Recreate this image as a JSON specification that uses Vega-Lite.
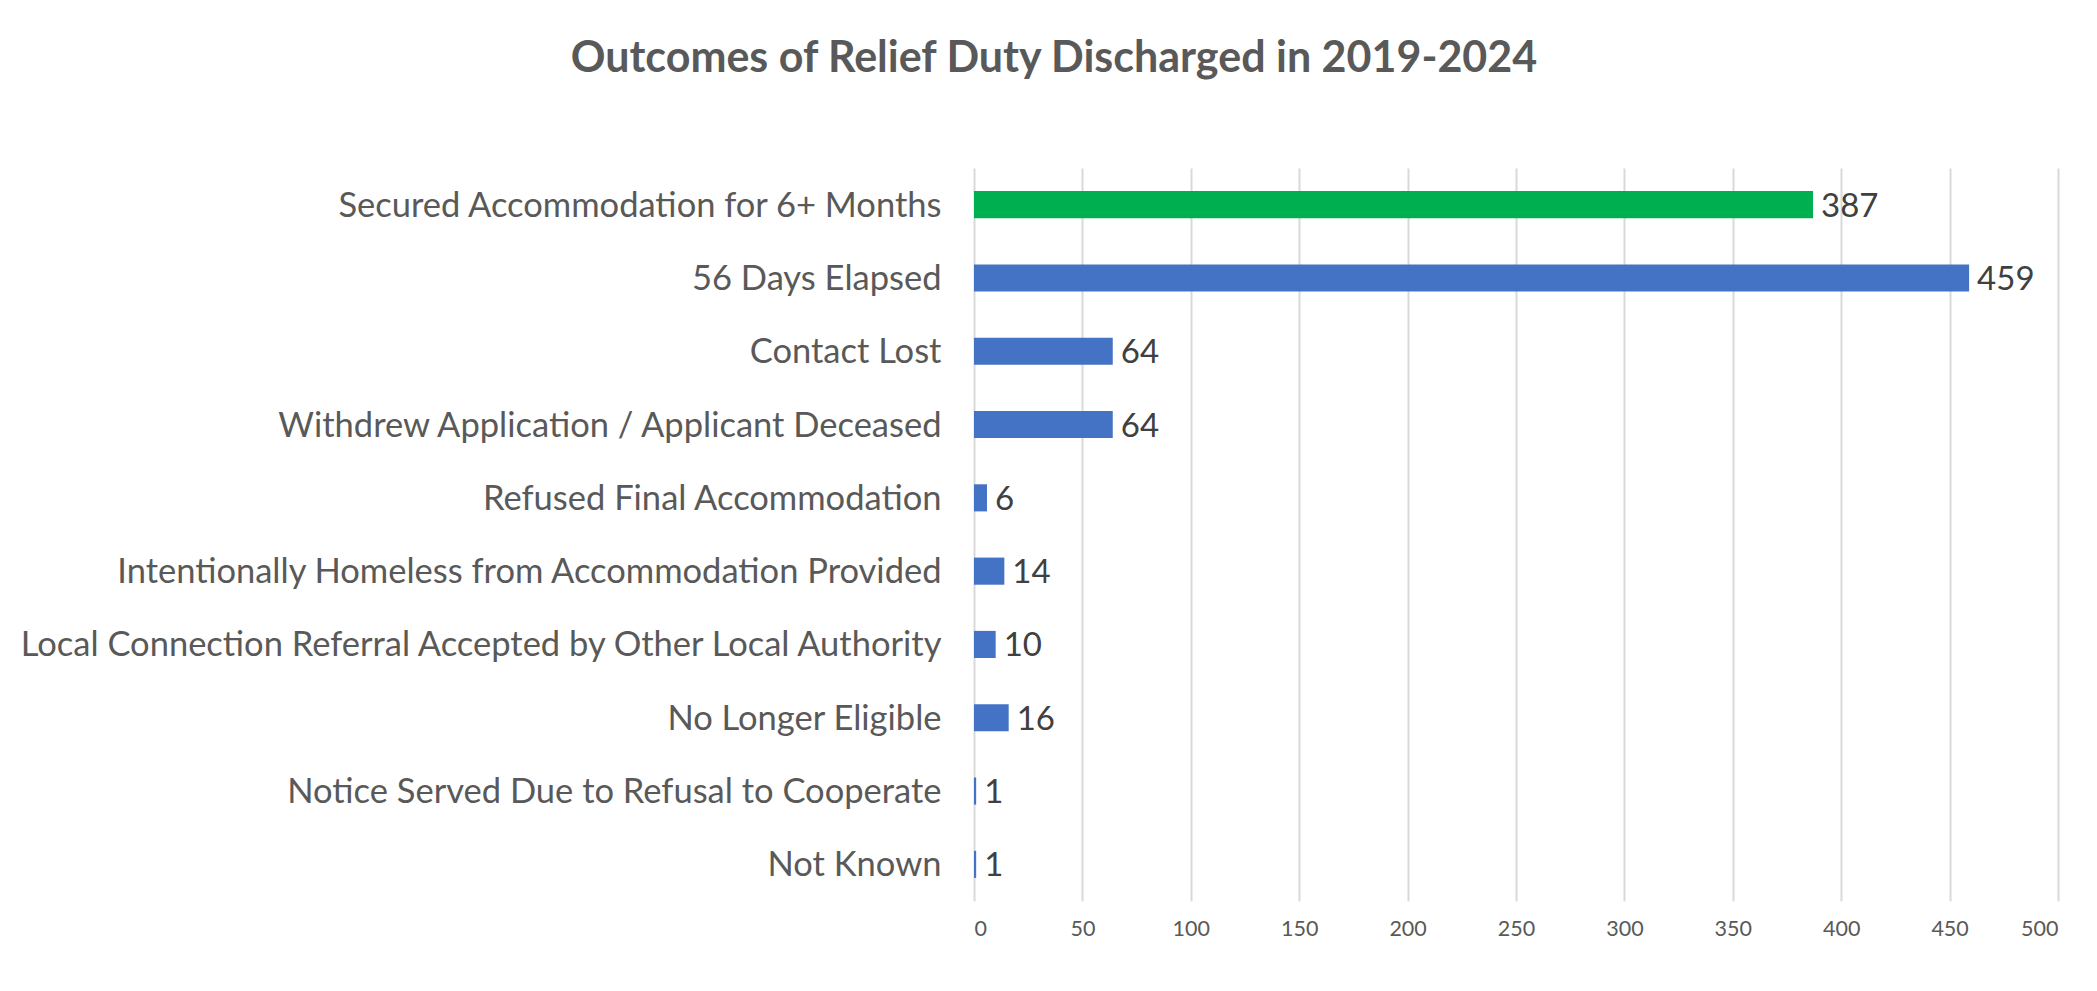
{
  "$schema": "https://vega.github.io/schema/vega-lite/v6.json",
  "autosize": {"type": "none"},
  "width": 1084,
  "height": 733,
  "padding": {"left": 974, "top": 168, "right": 39, "bottom": 90},
  "background": "#ffffff",
  "title": {
    "text": "Outcomes of Relief Duty Discharged in 2019-2024",
    "font": "Lato",
    "fontSize": 43,
    "fontWeight": "bold",
    "color": "#595959",
    "anchor": "middle",
    "frame": "group",
    "dx": -462,
    "offset": 53,
    "baseline": "alphabetic"
  },
  "config": {
    "view": {"stroke": null},
    "font": "Lato"
  },
  "data": {
    "values": [
      {"outcome": "Secured Accommodation for 6+ Months", "count": 387},
      {"outcome": "56 Days Elapsed", "count": 459},
      {"outcome": "Contact Lost", "count": 64},
      {"outcome": "Withdrew Application / Applicant Deceased", "count": 64},
      {"outcome": "Refused Final Accommodation", "count": 6},
      {"outcome": "Intentionally Homeless from Accommodation Provided", "count": 14},
      {"outcome": "Local Connection Referral Accepted by Other Local Authority", "count": 10},
      {"outcome": "No Longer Eligible", "count": 16},
      {"outcome": "Notice Served Due to Refusal to Cooperate", "count": 1},
      {"outcome": "Not Known", "count": 1}
    ]
  },
  "encoding": {
    "y": {
      "field": "outcome",
      "type": "nominal",
      "sort": null,
      "scale": {"paddingInner": 0.63, "paddingOuter": 0.315},
      "axis": {
        "title": null,
        "domain": false,
        "ticks": false,
        "labelPadding": 33,
        "labelFontSize": 34.5,
        "labelColor": "#595959",
        "labelLimit": 0,
        "labelFont": "Lato",
        "labelOffset": 2
      }
    },
    "x": {
      "field": "count",
      "type": "quantitative",
      "scale": {"domain": [0, 500], "nice": false},
      "axis": {
        "title": null,
        "domain": false,
        "ticks": false,
        "values": [0, 50, 100, 150, 200, 250, 300, 350, 400, 450, 500],
        "grid": true,
        "gridColor": "#D9D9D9",
        "gridWidth": 2,
        "labelPadding": 17,
        "labelFontSize": 21.5,
        "labelColor": "#595959",
        "labelFont": "Lato"
      }
    }
  },
  "layer": [
    {
      "mark": {"type": "bar"},
      "encoding": {
        "color": {
          "field": "outcome",
          "type": "nominal",
          "legend": null,
          "scale": {
            "domain": [
              "Secured Accommodation for 6+ Months",
              "56 Days Elapsed",
              "Contact Lost",
              "Withdrew Application / Applicant Deceased",
              "Refused Final Accommodation",
              "Intentionally Homeless from Accommodation Provided",
              "Local Connection Referral Accepted by Other Local Authority",
              "No Longer Eligible",
              "Notice Served Due to Refusal to Cooperate",
              "Not Known"
            ],
            "range": ["#00B050", "#4472C4", "#4472C4", "#4472C4", "#4472C4", "#4472C4", "#4472C4", "#4472C4", "#4472C4", "#4472C4"]
          }
        }
      }
    },
    {
      "mark": {"type": "text", "align": "left", "baseline": "middle", "dx": 8, "dy": 2, "fontSize": 33, "color": "#404040", "font": "Lato"},
      "encoding": {
        "text": {"field": "count", "type": "quantitative"}
      }
    }
  ]
}
